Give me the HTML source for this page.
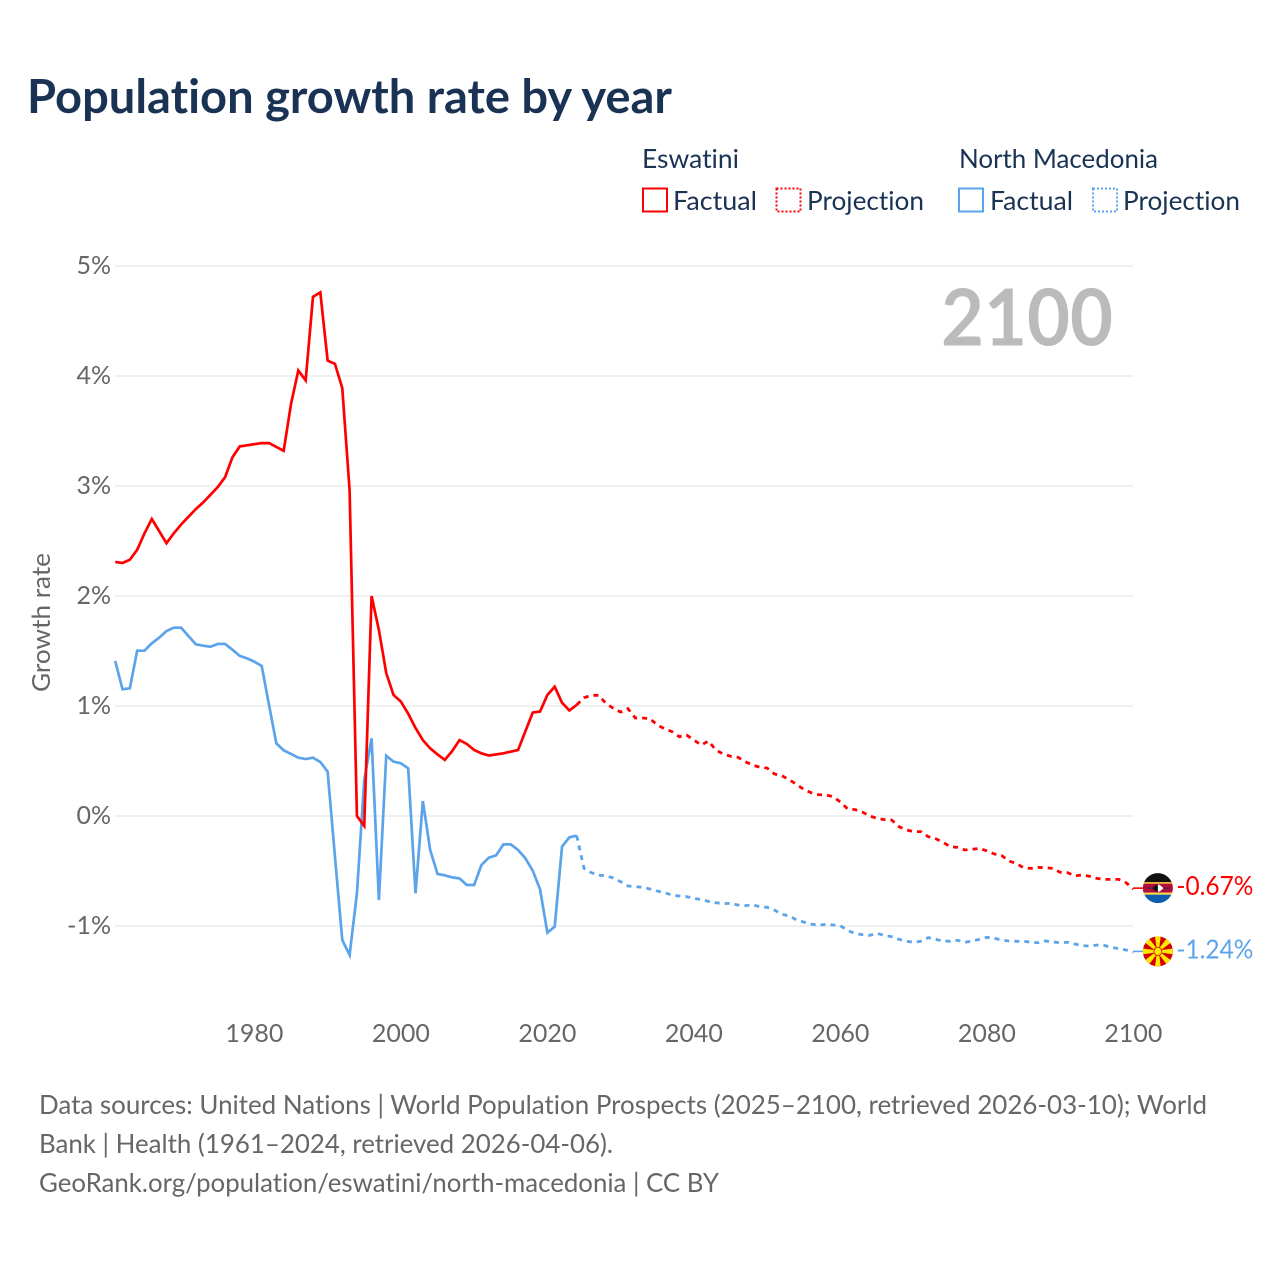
<!DOCTYPE html>
<html lang="en">
<head>
<meta charset="utf-8">
<title>Population growth rate by year</title>
<style>
  html, body { margin: 0; padding: 0; background: #ffffff; }
  svg { display: block; font-family: "Lato", "Carlito", "Liberation Sans", sans-serif; font-variant-ligatures: none; font-feature-settings: "liga" 0, "clig" 0; }
</style>
</head>
<body>
<svg id="chart" xmlns="http://www.w3.org/2000/svg" width="1280" height="1280" viewBox="0 0 1280 1280">
  <defs>
    <clipPath id="flag-clip-a"><circle cx="0" cy="0" r="15"/></clipPath>
    <clipPath id="flag-clip-b"><circle cx="0" cy="0" r="15"/></clipPath>
  </defs>
  <rect x="0" y="0" width="1280" height="1280" fill="#ffffff"/>

  <text x="27" y="113" font-size="46.5" font-weight="700" fill="#1a3354" textLength="645" lengthAdjust="spacingAndGlyphs">Population growth rate by year</text>

  <g>
    <text x="642" y="168" font-size="26" fill="#1a3354" textLength="97" lengthAdjust="spacingAndGlyphs">Eswatini</text>
    <text x="959" y="168" font-size="26" fill="#1a3354" textLength="199" lengthAdjust="spacingAndGlyphs">North Macedonia</text>
    <rect x="643" y="188.5" width="24" height="23" fill="none" stroke="#ff0000" stroke-width="2"/>
    <text x="673" y="210" font-size="26" fill="#1a3354" textLength="84" lengthAdjust="spacingAndGlyphs">Factual</text>
    <rect x="776.5" y="188.5" width="24" height="23" fill="none" stroke="#ff0000" stroke-width="2" stroke-dasharray="2 2"/>
    <text x="807" y="210" font-size="26" fill="#1a3354" textLength="117" lengthAdjust="spacingAndGlyphs">Projection</text>
    <rect x="959" y="188.5" width="24" height="23" fill="none" stroke="#5ba3ea" stroke-width="2"/>
    <text x="990" y="210" font-size="26" fill="#1a3354" textLength="83" lengthAdjust="spacingAndGlyphs">Factual</text>
    <rect x="1093" y="188.5" width="24" height="23" fill="none" stroke="#5ba3ea" stroke-width="2" stroke-dasharray="2 2"/>
    <text x="1123" y="210" font-size="26" fill="#1a3354" textLength="117" lengthAdjust="spacingAndGlyphs">Projection</text>
  </g>

  <g id="grid"></g>
  <g id="y-ticks"></g>
  <g id="x-ticks"></g>

  <text x="0" y="0" transform="translate(50 622.5) rotate(-90)" font-size="25" fill="#666666" text-anchor="middle" textLength="139" lengthAdjust="spacingAndGlyphs">Growth rate</text>

  <text id="year-label" x="1113" y="345.5" font-size="79" font-weight="700" fill="#bbbbbb" text-anchor="end" textLength="172" lengthAdjust="spacingAndGlyphs">2100</text>

  <g id="series"></g>

  <g id="end-markers"></g>

  <g font-size="26" fill="#666666">
    <text x="39" y="1114" textLength="1168" lengthAdjust="spacingAndGlyphs">Data sources: United Nations | World Population Prospects (2025–2100, retrieved 2026-03-10); World</text>
    <text x="39" y="1153" textLength="574" lengthAdjust="spacingAndGlyphs">Bank | Health (1961–2024, retrieved 2026-04-06).</text>
    <text x="39" y="1192" textLength="680" lengthAdjust="spacingAndGlyphs">GeoRank.org/population/eswatini/north-macedonia | CC BY</text>
  </g>
</svg>

<script>
var firstFactualYear = 1961;
var firstProjectionYear = 2024;
var yTickValues = [5, 4, 3, 2, 1, 0, -1];
var yTickLabels = ["5%", "4%", "3%", "2%", "1%", "0%", "-1%"];
var xTickYears = [1980, 2000, 2020, 2040, 2060, 2080, 2100];
var xTickLabels = ["1980", "2000", "2020", "2040", "2060", "2080", "2100"];

var eswatiniFactual = [2.31,2.30,2.33,2.42,2.57,2.70,2.59,2.48,2.57,2.65,2.72,2.79,2.85,2.92,2.99,3.08,3.26,3.36,3.37,3.38,3.39,3.39,3.355,3.32,3.745,4.05,3.96,4.72,4.76,4.14,4.11,3.89,2.96,0.0,-0.09,2.0,1.69,1.30,1.10,1.04,0.93,0.80,0.69,0.615,0.56,0.51,0.59,0.69,0.655,0.60,0.57,0.55,0.56,0.57,0.585,0.60,0.77,0.94,0.95,1.10,1.175,1.03,0.96,1.01];

var eswatiniProjection = [1.01,1.075,1.097,1.097,1.024,0.979,0.945,0.976,0.891,0.891,0.885,0.827,0.794,0.767,0.721,0.736,0.691,0.645,0.682,0.600,0.564,0.543,0.534,0.494,0.464,0.443,0.436,0.382,0.367,0.330,0.288,0.242,0.212,0.194,0.191,0.176,0.127,0.064,0.058,0.036,0.0,-0.021,-0.033,-0.036,-0.097,-0.127,-0.142,-0.142,-0.188,-0.206,-0.239,-0.279,-0.285,-0.309,-0.303,-0.294,-0.318,-0.345,-0.358,-0.409,-0.43,-0.47,-0.476,-0.467,-0.47,-0.476,-0.512,-0.515,-0.545,-0.536,-0.548,-0.567,-0.576,-0.576,-0.576,-0.606,-0.665];

var macedoniaFactual = [1.409,1.152,1.161,1.503,1.503,1.570,1.621,1.682,1.712,1.712,1.636,1.561,1.548,1.539,1.564,1.564,1.512,1.455,1.433,1.403,1.364,1.009,0.66,0.597,0.564,0.530,0.518,0.53,0.491,0.403,-0.370,-1.127,-1.264,-0.703,0.327,0.706,-0.764,0.548,0.494,0.479,0.433,-0.703,0.136,-0.309,-0.527,-0.539,-0.558,-0.567,-0.627,-0.627,-0.445,-0.379,-0.358,-0.258,-0.258,-0.309,-0.385,-0.497,-0.667,-1.061,-1.006,-0.279,-0.194,-0.179];

var macedoniaProjection = [-0.179,-0.476,-0.515,-0.539,-0.542,-0.564,-0.597,-0.636,-0.642,-0.648,-0.664,-0.682,-0.697,-0.718,-0.727,-0.733,-0.748,-0.761,-0.776,-0.788,-0.797,-0.794,-0.809,-0.815,-0.809,-0.824,-0.83,-0.855,-0.894,-0.906,-0.945,-0.964,-0.982,-0.994,-0.985,-0.991,-0.997,-1.042,-1.067,-1.079,-1.085,-1.067,-1.085,-1.097,-1.121,-1.139,-1.148,-1.139,-1.106,-1.121,-1.136,-1.139,-1.13,-1.148,-1.136,-1.121,-1.103,-1.112,-1.127,-1.136,-1.139,-1.139,-1.148,-1.152,-1.136,-1.145,-1.152,-1.148,-1.164,-1.179,-1.182,-1.173,-1.176,-1.194,-1.206,-1.218,-1.24];

var eswatiniEndLabel = "-0.67%";
var macedoniaEndLabel = "-1.24%";

var SVG_NS = "http://www.w3.org/2000/svg";
var RED = "#ff0000";
var BLUE = "#5ba3ea";

function xScale(year) { return 115.2 + (year - firstFactualYear) * 7.325; }
function yScale(value) { return 816 - value * 110; }

function make(tag, attrs, parent) {
  var el = document.createElementNS(SVG_NS, tag);
  for (var k in attrs) { el.setAttribute(k, attrs[k]); }
  parent.appendChild(el);
  return el;
}

function buildPath(values, startYear) {
  var d = "";
  for (var i = 0; i < values.length; i++) {
    d += (i === 0 ? "M" : "L") + xScale(startYear + i).toFixed(2) + " " + yScale(values[i]).toFixed(2);
  }
  return d;
}

var gridGroup = document.getElementById("grid");
var yTickGroup = document.getElementById("y-ticks");
yTickValues.forEach(function (v, i) {
  var line = make("line", { x1: 115, x2: 1133, y1: yScale(v), y2: yScale(v), stroke: "#e8e8e8", "stroke-width": 1.3 }, gridGroup);
  
  
  var label = make("text", { x: 111, y: yScale(v) + 8, "font-size": 25, fill: "#666666", "text-anchor": "end" }, yTickGroup);
  
  
  label.textContent = yTickLabels[i];
});

var xTickGroup = document.getElementById("x-ticks");
xTickYears.forEach(function (yr, i) {
  var label = make("text", { x: xScale(yr), y: 1042, "font-size": 25, fill: "#666666", "text-anchor": "middle" }, xTickGroup);
  
  
  label.textContent = xTickLabels[i];
});

var seriesGroup = document.getElementById("series");

var lineRedProjection = make("path", { d: buildPath(eswatiniProjection, firstProjectionYear), fill: "none", stroke: RED, "stroke-width": 2.8, "stroke-dasharray": "5 5" }, seriesGroup);



var lineBlueProjection = make("path", { d: buildPath(macedoniaProjection, firstProjectionYear), fill: "none", stroke: BLUE, "stroke-width": 2.8, "stroke-dasharray": "5 5" }, seriesGroup);



var lineBlueFactual = make("path", { d: buildPath(macedoniaFactual, firstFactualYear), fill: "none", stroke: BLUE, "stroke-width": 2.7, "stroke-linejoin": "miter" }, seriesGroup);



var lineRedFactual = make("path", { d: buildPath(eswatiniFactual, firstFactualYear), fill: "none", stroke: RED, "stroke-width": 2.7, "stroke-linejoin": "miter" }, seriesGroup);



var markers = document.getElementById("end-markers");
var lastYear = firstProjectionYear + eswatiniProjection.length - 1;

function endMarker(values, color, text, flagBuilder, labelName, connectorName, flagName) {
  var endValue = values[values.length - 1];
  var ex = xScale(lastYear);
  var ey = yScale(endValue);
  var connector = make("line", { x1: ex, x2: ex + 12, y1: ey - 1, y2: ey - 1, stroke: color, "stroke-width": 1.6 }, markers);
  
  
  var flag = make("g", { transform: "translate(" + (ex + 24.5) + " " + (ey - 1) + ")" }, markers);
  
  
  flagBuilder(flag);
  var label = make("text", { x: ex + 43, y: ey + 6, "font-size": 26, fill: color }, markers);
  
  
  label.setAttribute('textLength', '77');
  label.setAttribute('lengthAdjust', 'spacingAndGlyphs');
  label.textContent = text;
}

function eswatiniFlag(g) {
  var c = make("g", { "clip-path": "url(#flag-clip-a)" }, g);
  make("rect", { x: -16, y: -16, width: 32, height: 11, fill: "#111111" }, c);
  make("rect", { x: -16, y: -6, width: 32, height: 2, fill: "#ffd83d" }, c);
  make("rect", { x: -16, y: -4.5, width: 32, height: 9, fill: "#b10c3c" }, c);
  make("rect", { x: -16, y: 4.5, width: 32, height: 2, fill: "#ffd83d" }, c);
  make("rect", { x: -16, y: 6.5, width: 32, height: 11, fill: "#0d5eaf" }, c);
  make("rect", { x: -11, y: -0.5, width: 22, height: 1, fill: "#1a3354" }, c);
  make("path", { d: "M-5.5 0Q-2 -3.8 0 -3.8L0 3.8Q-2 3.8 -5.5 0Z", fill: "#111111" }, c);
  make("path", { d: "M5.5 0Q2 -3.8 0 -3.8L0 3.8Q2 3.8 5.5 0Z", fill: "#ffffff" }, c);
}

function macedoniaFlag(g) {
  var c = make("g", { "clip-path": "url(#flag-clip-b)" }, g);
  make("rect", { x: -16, y: -16, width: 32, height: 32, fill: "#d20000" }, c);
  for (var a = 0; a < 8; a++) {
    make("polygon", { points: "-3,-16 3,-16 0.9,0 -0.9,0", fill: "#ffe600", transform: "rotate(" + (a * 45) + ")" }, c);
  }
  make("circle", { cx: 0, cy: 0, r: 4, fill: "#ffe600", stroke: "#d20000", "stroke-width": 0.8 }, c);
}

endMarker(eswatiniProjection, RED, eswatiniEndLabel, eswatiniFlag, 'eswatini-end-value-label', 'eswatini-end-connector', 'eswatini-flag');
endMarker(macedoniaProjection, BLUE, macedoniaEndLabel, macedoniaFlag, 'north-macedonia-end-value-label', 'north-macedonia-end-connector', 'north-macedonia-flag');
</script>
</body>
</html>
